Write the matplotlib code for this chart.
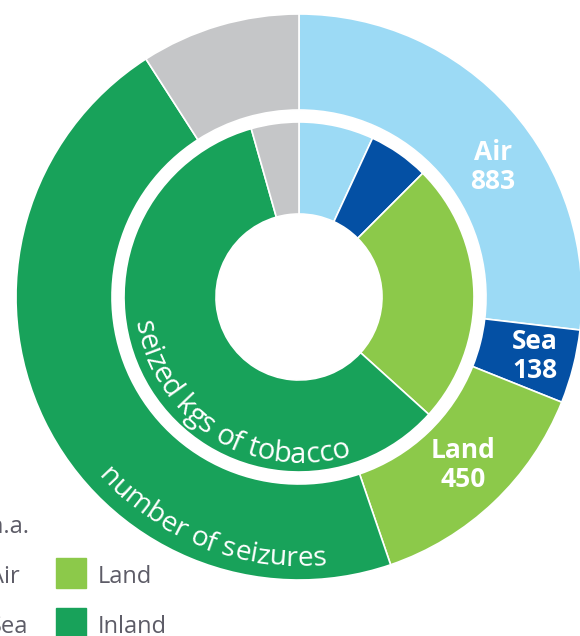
import numpy as np
import matplotlib
matplotlib.use("Agg")
import matplotlib.pyplot as plt
from matplotlib.patches import Rectangle
from matplotlib.font_manager import FontProperties

# Tobacco seizures by transport mode
modes = ["Air", "Sea", "Land", "Inland", "n.a."]
colors = ["#9cdaf5", "#0450a4", "#8cc94a", "#18a25a", "#c5c6c8"]
seizures = [883, 138, 450, 1517, 299]          # outer ring: number of seizures
kg_share = [6.9, 5.6, 24.2, 58.9, 4.4]         # inner ring: share of seized kgs (%)
shown_labels = ["Air", "Sea", "Land"]

W, H = 580, 636
fig = plt.figure(figsize=(W / 100, H / 100), dpi=100)
ax = fig.add_axes([0, 0, 1, 1])

cx, cy = 299, H - 297
r_out, r_out_in = 283, 187
r_in, r_hole = 175, 83

wp = dict(edgecolor="white", linewidth=1.2)
ax.pie(seizures, colors=colors, radius=r_out, center=(cx, cy), startangle=90,
       counterclock=False, wedgeprops=dict(width=r_out - r_out_in, **wp))
ax.pie(kg_share, colors=colors, radius=r_in, center=(cx, cy), startangle=90,
       counterclock=False, wedgeprops=dict(width=r_in - r_hole, **wp))

ax.set_xlim(0, W)
ax.set_ylim(0, H)
ax.set_aspect("equal")
ax.axis("off")

# value labels on outer ring
label_pos = {"Air": (493, 167), "Sea": (535, 356), "Land": (463, 465)}
for name in shown_labels:
    i = modes.index(name)
    x, y = label_pos[name]
    ax.text(x, H - y, f"{name}\n{seizures[i]}", color="white", fontsize=19,
            fontfamily="Open Sans", fontweight="bold", ha="center",
            va="center", linespacing=1.1)

renderer = fig.canvas.get_renderer()


def arc_text(s, r, mid_deg, size):
    prop = FontProperties(family="Open Sans", size=size)
    base = renderer.get_text_width_height_descent("xx", prop, ismath=False)[0]
    adv = [renderer.get_text_width_height_descent("x" + ch + "x", prop, ismath=False)[0] - base
           for ch in s]
    total = sum(adv)
    theta = np.radians(mid_deg) - total / 2 / r
    for ch, a in zip(s, adv):
        t = theta + a / 2 / r
        ax.text(cx + r * np.cos(t), cy + r * np.sin(t), ch, fontproperties=prop,
                color="white", ha="center", va="baseline",
                rotation=np.degrees(t) + 90, rotation_mode="anchor")
        theta += a / r


arc_text("seized kgs of tobacco", 166, 238.5, 21)
arc_text("number of seizures", 269, 248.8, 20.3)

# legend (partly outside the figure, as in the source)
legend_order = [("n.a.", 0, 0), ("Air", 0, 1), ("Sea", 0, 2), ("Land", 1, 1), ("Inland", 1, 2)]
for name, col, row in legend_order:
    sx = -53 + col * 109
    sy = 508 + row * 50
    ax.add_patch(Rectangle((sx, H - sy - 30), 30, 30,
                           color=colors[modes.index(name)], clip_on=False))
    ax.text(sx + 42, H - (sy + 25), name, color="#5d5c67", fontsize=17,
            fontfamily="Open Sans", ha="left", va="baseline")

fig.savefig("out.png", dpi=100)
